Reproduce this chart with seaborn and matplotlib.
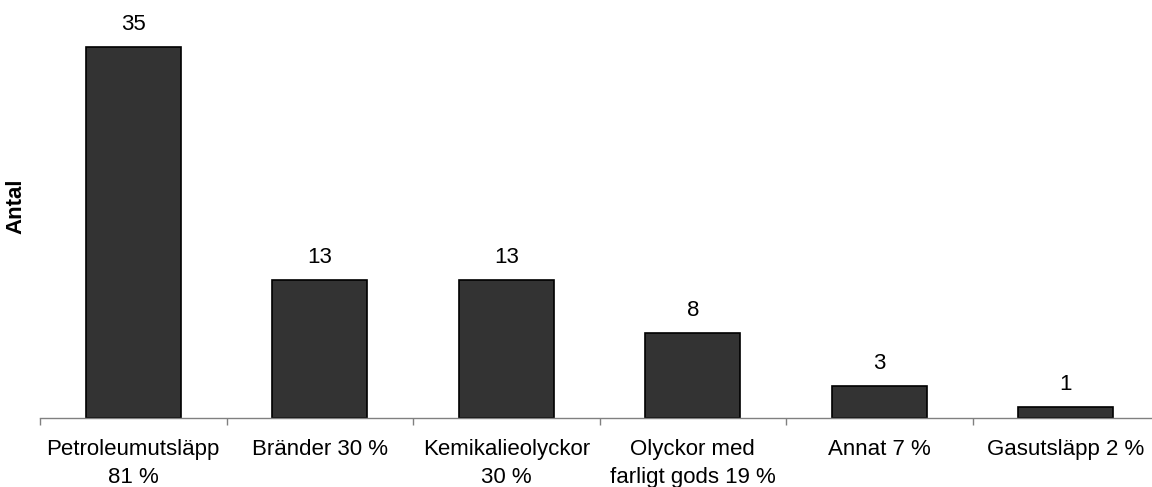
import matplotlib
matplotlib.use("Agg")
import matplotlib.pyplot as plt
import seaborn as sns
import pandas as pd
import numpy as np

categories = [
    "Petroleumutsläpp\n81 %",
    "Bränder 30 %",
    "Kemikalieolyckor\n30 %",
    "Olyckor med\nfarligt gods 19 %",
    "Annat 7 %",
    "Gasutsläpp 2 %",
]
counts = [35, 13, 13, 8, 3, 1]

sns.set_theme(style="white")
plt.rcParams["font.family"] = ["Liberation Sans", "DejaVu Sans"]

df = pd.DataFrame({"kategori": categories, "antal": counts})

fig = plt.figure(figsize=(11.52, 4.87), dpi=100)
ax = fig.add_axes([40 / 1152, 69 / 487, 1119 / 1152, 408 / 487])

sns.barplot(data=df, x="kategori", y="antal", color="#333333",
            edgecolor="black", linewidth=1.2, width=0.51, ax=ax,
            saturation=1)
for p in ax.patches:
    p.set_facecolor("#333333")

ax.set_xlim(-0.5, len(categories) - 0.5)
ax.set_ylim(0, 38.5)

for i, v in enumerate(counts):
    ax.annotate(str(v), (i, v), xytext=(0, 12.5), textcoords="offset points",
                ha="center", va="baseline", fontsize=16, color="black")

ax.set_xlabel("")
ax.set_ylabel("Antal", fontsize=16, fontweight="bold", color="black")
ax.yaxis.set_label_coords(-14 / 1119, (418 - 206) / 408)
ax.set_yticks([])

for s in ["left", "right", "top"]:
    ax.spines[s].set_visible(False)
ax.spines["bottom"].set_color("#808080")
ax.spines["bottom"].set_linewidth(1.0)

ax.set_xticks(range(len(categories)))
ax.set_xticklabels(categories, fontsize=16, linespacing=1.45)
ax.tick_params(axis="x", which="major", length=0, pad=15, colors="black")
ax.set_xticks(np.arange(-0.5, len(categories), 1.0), minor=True)
ax.tick_params(axis="x", which="minor", length=5, width=1.0, color="#808080",
               direction="out", bottom=True)

fig.savefig("out.png", dpi=100)
